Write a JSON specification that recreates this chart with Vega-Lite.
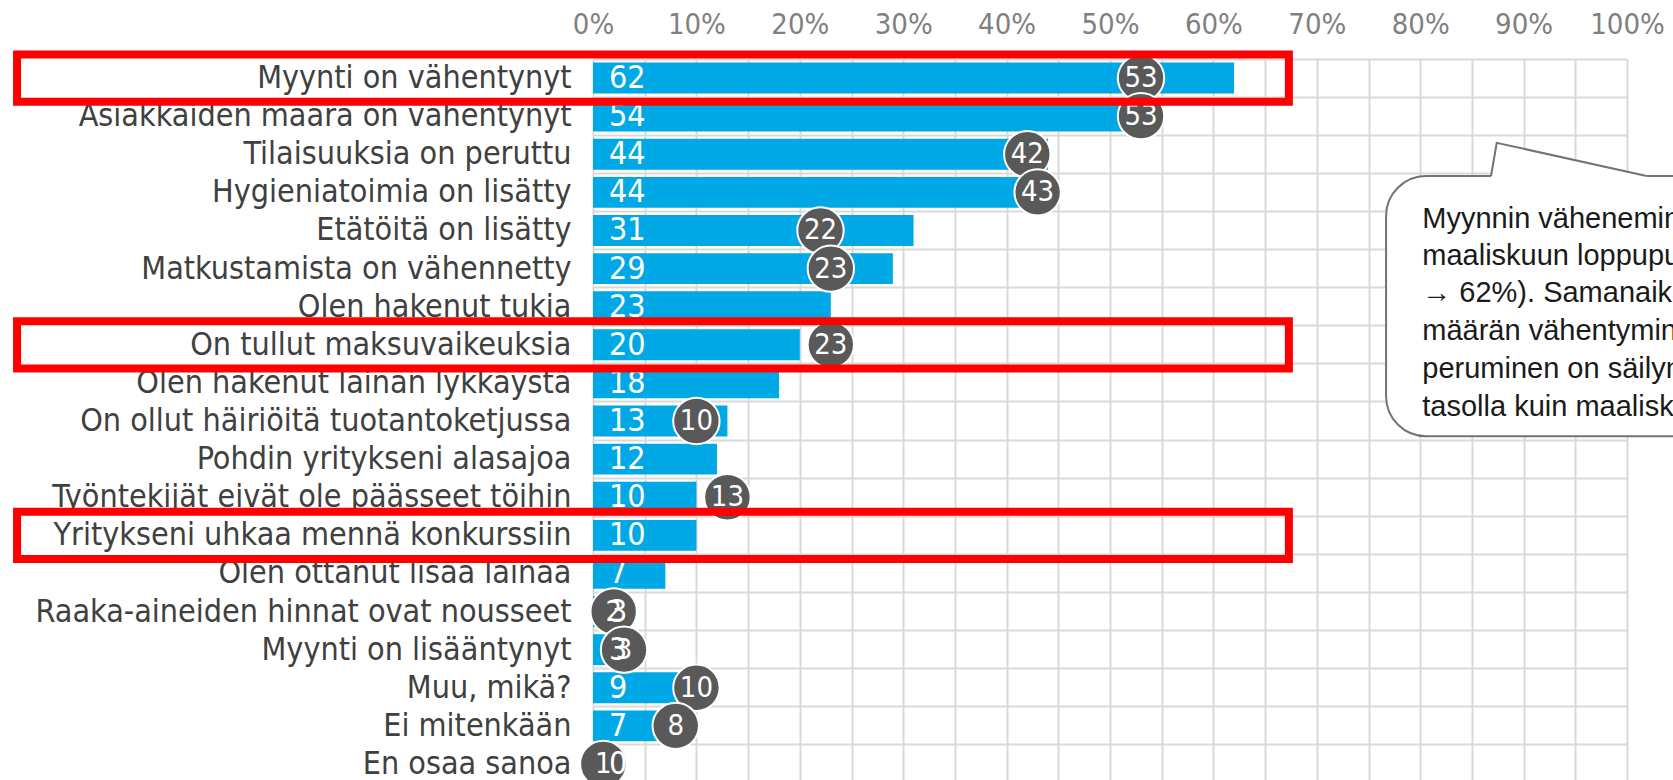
{
  "$schema": "https://vega.github.io/schema/vega-lite/v6.json",
  "width": 1034,
  "height": 724,
  "autosize": {"type": "none"},
  "padding": {"left": 593, "top": 59, "right": 46, "bottom": 0},
  "background": "white",
  "config": {"view": {"stroke": null}},
  "datasets": {
    "main": [
      {"cat": "Myynti on vähentynyt", "bar": 62, "c": 53, "hl": true},
      {"cat": "Asiakkaiden määrä on vähentynyt", "bar": 54, "c": 53, "hl": false},
      {"cat": "Tilaisuuksia on peruttu", "bar": 44, "c": 42, "hl": false},
      {"cat": "Hygieniatoimia on lisätty", "bar": 44, "c": 43, "hl": false},
      {"cat": "Etätöitä on lisätty", "bar": 31, "c": 22, "hl": false},
      {"cat": "Matkustamista on vähennetty", "bar": 29, "c": 23, "hl": false},
      {"cat": "Olen hakenut tukia", "bar": 23, "c": null, "hl": false},
      {"cat": "On tullut maksuvaikeuksia", "bar": 20, "c": 23, "hl": true},
      {"cat": "Olen hakenut lainan lykkäystä", "bar": 18, "c": null, "hl": false},
      {"cat": "On ollut häiriöitä tuotantoketjussa", "bar": 13, "c": 10, "hl": false},
      {"cat": "Pohdin yritykseni alasajoa", "bar": 12, "c": null, "hl": false},
      {"cat": "Työntekijät eivät ole päässeet töihin", "bar": 10, "c": 13, "hl": false},
      {"cat": "Yritykseni uhkaa mennä konkurssiin", "bar": 10, "c": null, "hl": true},
      {"cat": "Olen ottanut lisää lainaa", "bar": 7, "c": null, "hl": false},
      {"cat": "Raaka-aineiden hinnat ovat nousseet", "bar": 3, "c": 2, "hl": false},
      {"cat": "Myynti on lisääntynyt", "bar": 3, "c": 3, "hl": false},
      {"cat": "Muu, mikä?", "bar": 9, "c": 10, "hl": false},
      {"cat": "Ei mitenkään", "bar": 7, "c": 8, "hl": false},
      {"cat": "En osaa sanoa", "bar": 0, "c": 1, "hl": false}
    ],
    "box": [{"x": 76.7, "x2": 110, "y": 3.07, "y2": 9.9}],
    "pointer": [
      {"x": 86.85, "y": 3.07},
      {"x": 87.4, "y": 2.2},
      {"x": 101.9, "y": 3.07}
    ],
    "lines": [
      {"t": "Myynnin väheneminen on kasvanut", "r": 4.19},
      {"t": "maaliskuun loppupuolesta (53%", "r": 5.17},
      {"t": "→ 62%). Samanaikaisesti asiakkaiden", "r": 6.14},
      {"t": "määrän vähentyminen ja tilaisuuksien", "r": 7.15},
      {"t": "peruminen on säilynyt samalla", "r": 8.14},
      {"t": "tasolla kuin maaliskuussa.", "r": 9.12}
    ]
  },
  "layer": [
    {
      "data": {"name": "main"},
      "encoding": {
        "y": {
          "field": "cat",
          "type": "nominal",
          "sort": null,
          "scale": {
            "paddingInner": 0,
            "paddingOuter": 0,
            "domain": ["Myynti on vähentynyt", "Asiakkaiden määrä on vähentynyt", "Tilaisuuksia on peruttu", "Hygieniatoimia on lisätty", "Etätöitä on lisätty", "Matkustamista on vähennetty", "Olen hakenut tukia", "On tullut maksuvaikeuksia", "Olen hakenut lainan lykkäystä", "On ollut häiriöitä tuotantoketjussa", "Pohdin yritykseni alasajoa", "Työntekijät eivät ole päässeet töihin", "Yritykseni uhkaa mennä konkurssiin", "Olen ottanut lisää lainaa", "Raaka-aineiden hinnat ovat nousseet", "Myynti on lisääntynyt", "Muu, mikä?", "Ei mitenkään", "En osaa sanoa"]
          },
          "axis": {
            "title": null,
            "ticks": false,
            "tickSize": 0,
            "domain": false,
            "labelPadding": 22,
            "labelFont": "DejaVu Sans Condensed",
            "labelFontSize": 32,
            "labelColor": "#404040",
            "labelLimit": 1000,
            "grid": true,
            "bandPosition": 0,
            "gridColor": "#d9d9d9",
            "gridWidth": 2
          }
        }
      },
      "layer": [
        {
          "mark": {"type": "bar", "color": "#00A9E5", "height": {"band": 0.81}},
          "encoding": {
            "x": {
              "field": "bar",
              "type": "quantitative",
              "scale": {"domain": [0, 100], "nice": false},
              "axis": {
                "title": null,
                "orient": "top",
                "values": [0, 5, 10, 15, 20, 25, 30, 35, 40, 45, 50, 55, 60, 65, 70, 75, 80, 85, 90, 95, 100],
                "labelExpr": "datum.value % 10 === 0 ? datum.value + '%' : ''",
                "ticks": false,
                "tickSize": 0,
                "domain": false,
                "labelPadding": 20,
                "labelFlush": false,
                "labelFont": "DejaVu Sans Condensed",
                "labelFontSize": 29,
                "labelColor": "#808080",
                "labelOverlap": false,
                "grid": true,
                "gridColor": "#d9d9d9",
                "gridWidth": 2
              }
            }
          }
        },
        {
          "transform": [{"filter": "datum.c != null"}],
          "mark": {"type": "circle", "size": 2150, "fill": "#595959", "stroke": "white", "strokeWidth": 2, "opacity": 1},
          "encoding": {"x": {"field": "c", "type": "quantitative"}}
        },
        {
          "mark": {"type": "text", "align": "left", "baseline": "middle", "dx": 16, "color": "white", "font": "DejaVu Sans Condensed", "fontSize": 32},
          "encoding": {"x": {"datum": 0}, "text": {"field": "bar"}}
        },
        {
          "transform": [{"filter": "datum.c != null"}],
          "mark": {"type": "text", "align": "center", "baseline": "middle", "color": "white", "font": "DejaVu Sans Condensed", "fontSize": 29},
          "encoding": {"x": {"field": "c", "type": "quantitative"}, "text": {"field": "c"}}
        },
        {
          "transform": [{"filter": "datum.hl"}],
          "mark": {"type": "rect", "fill": "transparent", "stroke": "#FF0000", "strokeWidth": 8, "height": {"band": 1.24}},
          "encoding": {"x": {"datum": -55.7}, "x2": {"datum": 67.3}}
        }
      ]
    },
    {
      "layer": [
        {
          "data": {"name": "box"},
          "mark": {"type": "rect", "fill": "white", "stroke": "#737373", "strokeWidth": 2, "cornerRadius": 40},
          "encoding": {
            "x": {"field": "x", "type": "quantitative"},
            "x2": {"field": "x2"},
            "y": {"field": "y", "type": "quantitative", "scale": {"domain": [0, 19], "reverse": true, "nice": false, "zero": false}, "axis": null},
            "y2": {"field": "y2"}
          }
        },
        {
          "data": {"name": "pointer"},
          "mark": {"type": "area", "fill": "white", "orient": "vertical"},
          "encoding": {
            "x": {"field": "x", "type": "quantitative"},
            "y": {"field": "y", "type": "quantitative"},
            "y2": {"datum": 3.13}
          }
        },
        {
          "data": {"name": "pointer"},
          "mark": {"type": "line", "stroke": "#737373", "strokeWidth": 2},
          "encoding": {
            "x": {"field": "x", "type": "quantitative"},
            "y": {"field": "y", "type": "quantitative"}
          }
        },
        {
          "data": {"name": "lines"},
          "mark": {"type": "text", "align": "left", "baseline": "middle", "font": "Liberation Sans", "fontSize": 29, "color": "#1a1a1a"},
          "encoding": {
            "x": {"datum": 80.2},
            "y": {"field": "r", "type": "quantitative"},
            "text": {"field": "t"}
          }
        }
      ]
    }
  ],
  "resolve": {"scale": {"y": "independent"}}
}
